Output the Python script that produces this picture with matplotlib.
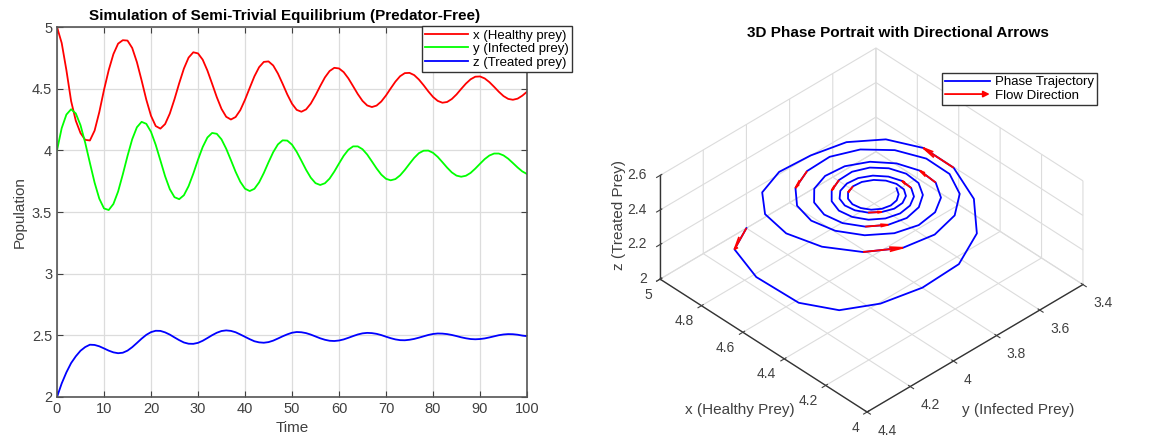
import matplotlib
matplotlib.use("Agg")
import matplotlib.pyplot as plt
import numpy as np
from matplotlib.lines import Line2D
from matplotlib.patches import FancyArrowPatch
from matplotlib.legend_handler import HandlerBase

plt.rcParams['font.family'] = ['Liberation Sans', 'DejaVu Sans']

# ---------------- data ----------------
time = list(range(0, 101))

x_healthy = [5.000, 4.870, 4.650, 4.400, 4.240, 4.140, 4.085, 4.080, 4.160, 4.310,
             4.490, 4.650, 4.780, 4.865, 4.893, 4.890, 4.830, 4.715, 4.567, 4.411,
             4.280, 4.197, 4.176, 4.213, 4.298, 4.415, 4.544, 4.663, 4.752, 4.795,
             4.786, 4.735, 4.647, 4.540, 4.431, 4.336, 4.272, 4.250, 4.270, 4.326,
             4.410, 4.506, 4.600, 4.674, 4.717, 4.721, 4.688, 4.623, 4.540, 4.453,
             4.378, 4.328, 4.313, 4.332, 4.379, 4.446, 4.521, 4.591, 4.643, 4.669,
             4.664, 4.634, 4.583, 4.520, 4.456, 4.401, 4.364, 4.351, 4.363, 4.396,
             4.445, 4.502, 4.557, 4.601, 4.626, 4.628, 4.610, 4.574, 4.528, 4.478,
             4.433, 4.401, 4.386, 4.392, 4.416, 4.453, 4.498, 4.541, 4.576, 4.597,
             4.599, 4.583, 4.553, 4.515, 4.475, 4.440, 4.417, 4.410, 4.419, 4.443,
             4.475]

y_infected = [4.000, 4.180, 4.290, 4.333, 4.299, 4.204, 4.062, 3.898, 3.738, 3.608,
              3.529, 3.516, 3.565, 3.666, 3.805, 3.954, 4.090, 4.187, 4.231, 4.215,
              4.150, 4.045, 3.918, 3.790, 3.685, 3.620, 3.604, 3.636, 3.710, 3.811,
              3.924, 4.027, 4.104, 4.141, 4.134, 4.089, 4.013, 3.921, 3.826, 3.745,
              3.689, 3.670, 3.688, 3.740, 3.816, 3.903, 3.985, 4.048, 4.081, 4.079,
              4.046, 3.988, 3.916, 3.842, 3.778, 3.734, 3.719, 3.733, 3.771, 3.828,
              3.893, 3.956, 4.005, 4.032, 4.032, 4.009, 3.966, 3.910, 3.853, 3.803,
              3.769, 3.757, 3.767, 3.797, 3.841, 3.891, 3.939, 3.977, 3.997, 3.998,
              3.980, 3.947, 3.904, 3.860, 3.821, 3.795, 3.786, 3.794, 3.817, 3.852,
              3.891, 3.929, 3.958, 3.974, 3.974, 3.959, 3.932, 3.897, 3.861, 3.829,
              3.808]

z_treated = [2.000, 2.110, 2.200, 2.275, 2.330, 2.375, 2.405, 2.424, 2.422, 2.411,
             2.394, 2.376, 2.362, 2.355, 2.359, 2.376, 2.404, 2.438, 2.473, 2.504,
             2.526, 2.537, 2.536, 2.524, 2.506, 2.483, 2.461, 2.442, 2.432, 2.431,
             2.439, 2.456, 2.478, 2.501, 2.521, 2.535, 2.540, 2.536, 2.525, 2.507,
             2.488, 2.469, 2.452, 2.443, 2.440, 2.445, 2.457, 2.474, 2.492, 2.508,
             2.521, 2.527, 2.525, 2.518, 2.506, 2.491, 2.476, 2.464, 2.456, 2.454,
             2.458, 2.467, 2.480, 2.494, 2.507, 2.516, 2.520, 2.518, 2.512, 2.502,
             2.489, 2.477, 2.467, 2.461, 2.460, 2.464, 2.471, 2.481, 2.492, 2.503,
             2.511, 2.515, 2.514, 2.510, 2.503, 2.494, 2.484, 2.476, 2.470, 2.468,
             2.470, 2.475, 2.483, 2.492, 2.501, 2.507, 2.510, 2.509, 2.505, 2.498,
             2.493]

series_labels = ['x (Healthy prey)', 'y (Infected prey)', 'z (Treated prey)']
series_colors = ['#ff0000', '#00ff00', '#0000ff']
arrow_idx = [0, 10, 20, 30, 40, 50, 60, 70, 80, 90]

left_xticks = list(range(0, 101, 10))
left_yticks = [2, 2.5, 3, 3.5, 4, 4.5, 5]
x3_ticks = [4, 4.2, 4.4, 4.6, 4.8, 5]
y3_ticks = [3.4, 3.6, 3.8, 4, 4.2, 4.4]
z3_ticks = [2, 2.2, 2.4, 2.6]

TICKC = '#404040'
GRID = '#dcdcdc'

W, H = 1167, 438
fig = plt.figure(figsize=(W / 100, H / 100), dpi=100)

# ---------------- left: time series ----------------
ax = fig.add_axes([57 / W, 1 - 397 / H, 470 / W, 370 / H])
for vals, lab, col in zip([x_healthy, y_infected, z_treated], series_labels, series_colors):
    ax.plot(time, vals, color=col, lw=1.3, label=lab)
ax.set_xlim(0, 100)
ax.set_ylim(2, 5)
ax.set_xticks(left_xticks)
ax.set_yticks(left_yticks)
ax.set_yticklabels(['2', '2.5', '3', '3.5', '4', '4.5', '5'])
ax.grid(True, color=GRID, lw=0.9)
ax.set_axisbelow(True)
ax.tick_params(direction='in', top=True, right=True, labelsize=10.5, colors=TICKC,
               length=4, width=0.8)
for s in ax.spines.values():
    s.set_color('#555555')
    s.set_linewidth(1.2)
ax.set_xlabel('Time', fontsize=11, color=TICKC, labelpad=4)
ax.set_ylabel('Population', fontsize=11, color=TICKC, labelpad=4)
ax.set_title('Simulation of Semi-Trivial Equilibrium (Predator-Free)', fontsize=11,
             fontweight='bold', color='black', pad=5, x=0.485)
leg = ax.legend(loc='upper right', bbox_to_anchor=(572 / W, 1 - 26 / H),
                bbox_transform=fig.transFigure, borderaxespad=0, fontsize=9.5,
                fancybox=False, handlelength=3.2, handletextpad=0.4,
                labelspacing=0.1, borderpad=0.25, framealpha=1)
leg.get_frame().set_edgecolor('#333333')
leg.get_frame().set_linewidth(1.0)
leg.set_zorder(10)

# ---------------- right: 3D phase portrait ----------------
ax3 = fig.add_axes([650.7 / W, 1 - 450.8 / H, 430 / W, 430 / H], projection='3d',
                   proj_type='ortho')
ax3.set_box_aspect((1, 1, 0.44))
ax3.view_init(elev=38, azim=136.2)
ax3.plot(x_healthy, y_infected, z_treated, color='#0000ff', lw=1.3)
xs = np.array(x_healthy); ys = np.array(y_infected); zs = np.array(z_treated)
ai = np.array(arrow_idx)
ax3.quiver(xs[ai], ys[ai], zs[ai], xs[ai + 1] - xs[ai], ys[ai + 1] - ys[ai],
           zs[ai + 1] - zs[ai], color='red', lw=1.3, arrow_length_ratio=0.35)
ax3.set_xlim(4, 5)
ax3.set_ylim(3.4, 4.4)
ax3.set_zlim(2, 2.6)
ax3.set_xticks(x3_ticks)
ax3.set_yticks(y3_ticks)
ax3.set_zticks(z3_ticks)
ax3.set_xticklabels(['4', '4.2', '4.4', '4.6', '4.8', '5'])
ax3.set_yticklabels(['3.4', '3.6', '3.8', '4', '4.2', '4.4'])
ax3.set_zticklabels(['2', '2.2', '2.4', '2.6'])
ax3.tick_params(labelsize=10, colors=TICKC)
ax3.tick_params(axis='x', pad=-2)
ax3.tick_params(axis='y', pad=0)
ax3.tick_params(axis='z', pad=-3)
ax3.zaxis.set_ticks_position('upper')
for tk in ax3.xaxis.get_major_ticks():
    tk.label1.set_horizontalalignment('right')
for tk in ax3.yaxis.get_major_ticks():
    tk.label1.set_horizontalalignment('left')
for tk in ax3.zaxis.get_major_ticks():
    tk.label1.set_horizontalalignment('right')
    tk.label1.set_verticalalignment('center')
for axis in (ax3.xaxis, ax3.yaxis, ax3.zaxis):
    axis.set_pane_color((1, 1, 1, 0))
    axis.pane.set_edgecolor(GRID)
    axis.line.set_color('#333333')
    axis.line.set_linewidth(1.0)
    axis._axinfo['grid']['color'] = GRID
    axis._axinfo['grid']['linewidth'] = 0.8

fig.text(898 / W, 1 - 33 / H, '3D Phase Portrait with Directional Arrows', fontsize=11,
         fontweight='bold', color='black', ha='center', va='center')
fig.text(740 / W, 1 - 410 / H, 'x (Healthy Prey)', fontsize=11, color=TICKC,
         ha='center', va='center')
fig.text(1018 / W, 1 - 410 / H, 'y (Infected Prey)', fontsize=11, color=TICKC,
         ha='center', va='center')
fig.text(619 / W, 1 - 215 / H, 'z (Treated Prey)', fontsize=11, color=TICKC,
         ha='center', va='center', rotation=90)


class ArrowHandler(HandlerBase):
    def create_artists(self, legend, orig_handle, xdescent, ydescent, width, height,
                       fontsize, trans):
        yc = height / 2 - ydescent
        arr = FancyArrowPatch((-xdescent, yc), (width - xdescent, yc),
                              arrowstyle='-|>', mutation_scale=9, color='red',
                              lw=1.3, transform=trans, shrinkA=0, shrinkB=0)
        return [arr]


h_line = Line2D([], [], color='#0000ff', lw=1.3)
h_arrow = Line2D([], [], color='red', lw=1.3)
leg3 = fig.legend([h_line, h_arrow], ['Phase Trajectory', 'Flow Direction'],
                  loc='upper left', bbox_to_anchor=(935 / W, 1 - 66 / H),
                  handler_map={h_arrow: ArrowHandler()}, fontsize=9.5,
                  fancybox=False, handlelength=3.4, handletextpad=0.4,
                  labelspacing=0.1, borderpad=0.25, framealpha=1)
leg3.get_frame().set_edgecolor('#333333')
leg3.get_frame().set_linewidth(1.0)

fig.savefig('out.png', dpi=100)
